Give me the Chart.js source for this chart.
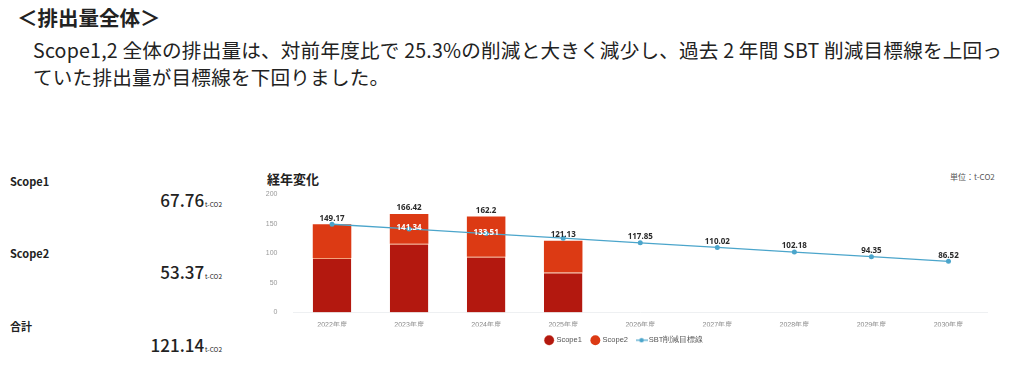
<!DOCTYPE html>
<html lang="ja">
<head>
<meta charset="utf-8">
<script src="https://cdn.jsdelivr.net/npm/chart.js@4"></script>
<style>
  body { margin: 0; width: 1024px; height: 369px; background: #fff; position: relative; overflow: hidden;
         font-family: "Noto Sans CJK JP", "Noto Sans", sans-serif; color: #222; }
  .abs { position: absolute; white-space: nowrap; }
  #title { left: 17px; top: 2px; font-size: 20.5px; font-weight: 700; }
  .para { left: 33px; font-size: 19.6px; letter-spacing: 0.2px; }
  .lbl { left: 10px; font-size: 11px; font-weight: 700; }
  .val { font-size: 17px; font-weight: 500; right: 802px; text-align: right; }
  .val small { font-size: 6.5px; font-weight: 400; margin-left: 1px; }
  #head { left: 267px; top: 169px; font-size: 13px; font-weight: 700; }
  #unit { left: 950px; top: 171px; font-size: 8px; color: #555; }
  #wrap { position: absolute; left: 262px; top: 182px; width: 740px; height: 172px; }
</style>
</head>
<body>
<div class="abs" id="title">＜排出量全体＞</div>
<div class="abs para" style="top:35px">Scope1,2 全体の排出量は、対前年度比で 25.3%の削減と大きく減少し、過去 2 年間 SBT 削減目標線を上回っ</div>
<div class="abs para" style="top:62px">ていた排出量が目標線を下回りました。</div>

<div class="abs lbl" style="top:173px">Scope1</div>
<div class="abs val" style="top:187px">67.76<small>t-CO2</small></div>
<div class="abs lbl" style="top:245px">Scope2</div>
<div class="abs val" style="top:259px">53.37<small>t-CO2</small></div>
<div class="abs lbl" style="top:318px">合計</div>
<div class="abs val" style="top:332px">121.14<small>t-CO2</small></div>

<div class="abs" id="head">経年変化</div>
<div class="abs" id="unit">単位：t-CO2</div>
<div id="wrap"><canvas id="c"></canvas></div>

<script>
const years = ["2022年度", "2023年度", "2024年度", "2025年度", "2026年度", "2027年度", "2028年度", "2029年度", "2030年度"];
const scope1 = [92, 116.4, 94.4, 67.76, null, null, null, null, null];
const scope2 = [57.17, 50.02, 67.8, 53.37, null, null, null, null, null];
const totals = [149.17, 166.42, 162.2, 121.13, null, null, null, null, null];
const sbtTarget = [149.17, 141.34, 133.51, 125.68, 117.85, 110.02, 102.18, 94.35, 86.52];
const yTicks = [0, 50, 100, 150, 200];

const RED1 = "#b3180f";
const RED2 = "#dc3a14";
const BLUE = "#4ba5cb";

// small line-with-dot icon for the legend
function lineIcon() {
  const cv = document.createElement("canvas");
  cv.width = 12; cv.height = 6;
  const g = cv.getContext("2d");
  g.strokeStyle = BLUE; g.lineWidth = 1.2;
  g.beginPath(); g.moveTo(0, 3); g.lineTo(12, 3); g.stroke();
  g.fillStyle = BLUE;
  g.beginPath(); g.arc(6, 3, 2.2, 0, Math.PI * 2); g.fill();
  return cv;
}

const valueLabels = {
  id: "valueLabels",
  afterDatasetsDraw(chart) {
    const ctx = chart.ctx;
    const x = chart.scales.x, y = chart.scales.y;
    ctx.save();
    ctx.font = "bold 8px 'Noto Sans', sans-serif";
    ctx.textAlign = "center";
    ctx.textBaseline = "bottom";
    years.forEach((yr, i) => {
      const px = x.getPixelForValue(i);
      const t = totals[i];
      const s = sbtTarget[i];
      if (t != null) {
        ctx.fillStyle = "#2b2b2b";
        ctx.fillText(String(t), px, y.getPixelForValue(t) - 2);
        if (s < t - 5) {
          ctx.fillStyle = "#ffffff";
          ctx.fillText(s.toFixed(2), px, y.getPixelForValue(s) + 3);
        }
      } else {
        ctx.fillStyle = "#2b2b2b";
        ctx.fillText(s.toFixed(2), px, y.getPixelForValue(s) - 2);
      }
    });
    ctx.restore();
  }
};

new Chart(document.getElementById("c"), {
  type: "bar",
  data: {
    labels: years,
    datasets: [
      {
        label: "Scope1",
        data: scope1,
        backgroundColor: RED1,
        borderColor: "#f3a37c",
        borderWidth: { top: 1, left: 0, right: 0, bottom: 0 },
        borderSkipped: false,
        categoryPercentage: 1,
        barPercentage: 0.5,
        stack: "s",
        order: 1
      },
      {
        label: "Scope2",
        data: scope2,
        backgroundColor: RED2,
        borderWidth: 0,
        categoryPercentage: 1,
        barPercentage: 0.5,
        stack: "s",
        order: 1
      },
      {
        type: "line",
        label: "SBT削減目標線",
        data: sbtTarget,
        borderColor: BLUE,
        backgroundColor: BLUE,
        borderWidth: 1.3,
        pointRadius: 2.5,
        pointBorderWidth: 0,
        tension: 0,
        order: 0
      }
    ]
  },
  options: {
    responsive: true,
    maintainAspectRatio: false,
    animation: false,
    layout: { padding: { top: 0, right: 15, left: 0, bottom: 0 } },
    plugins: {
      tooltip: { enabled: false },
      legend: {
        position: "bottom",
        labels: {
          usePointStyle: true,
          boxWidth: 7,
          boxHeight: 7,
          padding: 10,
          color: "#555",
          font: { size: 7.5 },
          sort: (a, b) => a.datasetIndex - b.datasetIndex,
          generateLabels(chart) {
            const items = Chart.defaults.plugins.legend.labels.generateLabels(chart);
            items.forEach(it => {
              if (it.datasetIndex === 2) { it.pointStyle = lineIcon(); }
              else { it.pointStyle = "circle"; }
            });
            return items;
          }
        }
      }
    },
    scales: {
      x: {
        stacked: true,
        offset: true,
        grid: { display: false },
        border: { color: "#eef0f2" },
        ticks: { color: "#888", font: { size: 7 }, padding: 0 },
        afterFit(axis) { axis.height = 14; }
      },
      y: {
        stacked: true,
        min: 0,
        max: 200,
        afterBuildTicks(axis) { axis.ticks = yTicks.map(v => ({ value: v })); },
        grid: { display: false },
        border: { display: false },
        ticks: { color: "#999", font: { size: 7 }, padding: 8 },
        afterFit(axis) { axis.width = 31.5; }
      }
    }
  },
  plugins: [valueLabels]
});
</script>
</body>
</html>
